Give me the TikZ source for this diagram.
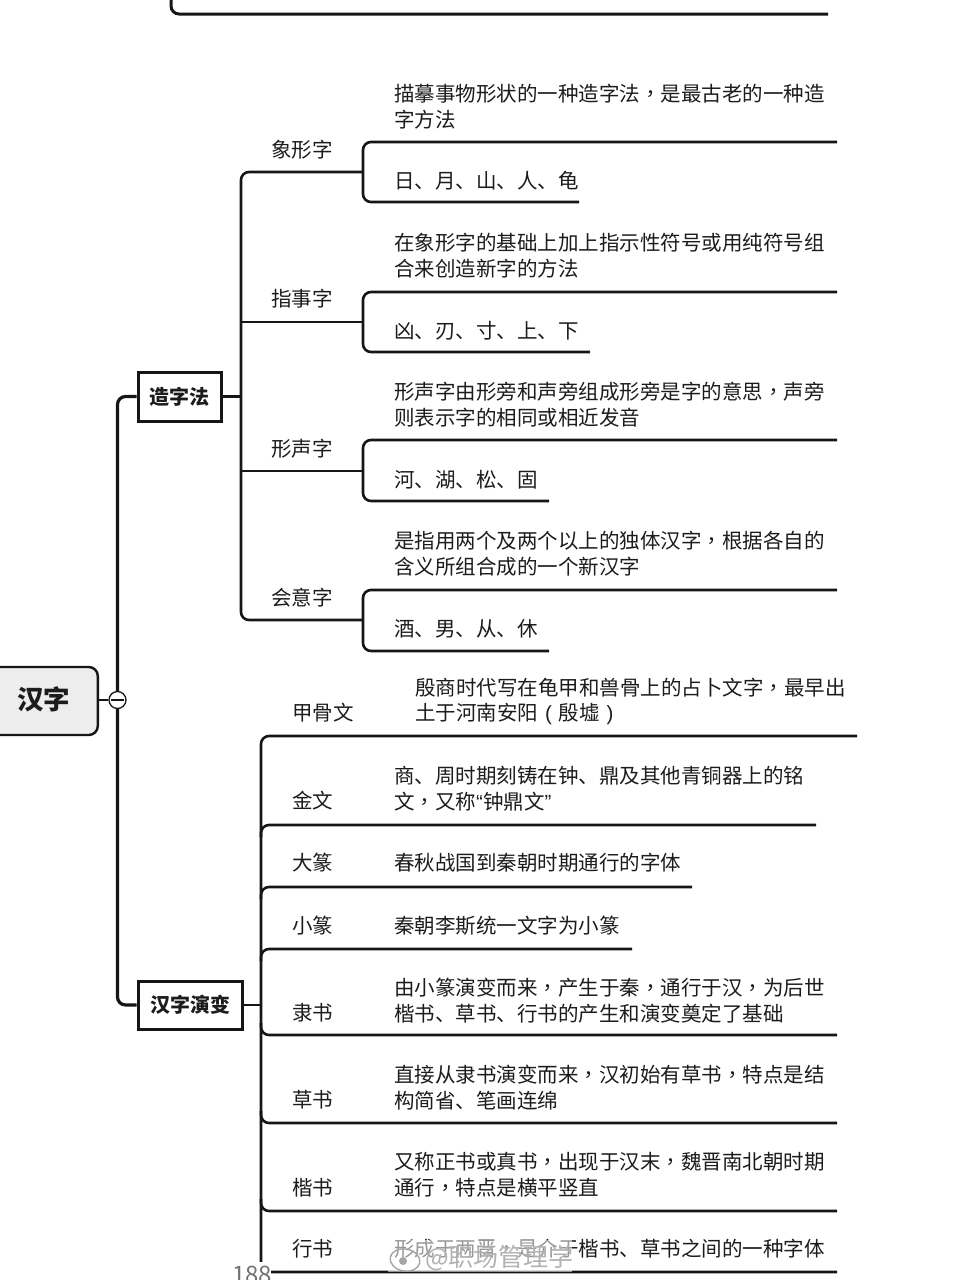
\documentclass[tikz,border=0pt]{standalone}
\usepackage{fontspec}
\setmainfont{Noto Sans CJK SC}
\newfontfamily\tcf{Noto Sans CJK TC}
\newfontfamily\latf{Liberation Sans}
\newcommand{\cm}{{\tcf ，}}
\usetikzlibrary{calc}
\definecolor{ink}{HTML}{161616}
\definecolor{txt}{HTML}{1C1C1C}
\tikzset{
  x=1pt,y=-1pt,
  wire/.style={draw=ink,line width=2.6pt,rounded corners=8pt},
  straightwire/.style={draw=ink,line width=2.6pt},
  rootbox/.style={draw=ink,line width=2.4pt,rounded corners=9pt,fill=black!7},
  mainbox/.style={draw=ink,line width=3pt,fill=white,inner sep=0pt,font=\bfseries\fontsize{20}{24}\selectfont,text=txt},
  lab/.style={anchor=west,inner sep=0pt,text=txt,font=\fontsize{20.5}{24}\selectfont},
  wmark/.style={anchor=west,inner sep=0pt,text=black!30,font=\fontsize{25}{28}\selectfont},
}
\begin{document}
\begin{tikzpicture}
\useasboundingbox (0,0) rectangle (960,1280);
\fill[white] (0,0) rectangle (960,1280);

% cut-off branch at the very top
\coordinate (ta) at (171,0);
\coordinate (tb) at (828,14);
\draw[wire,line width=3pt] (ta) |- (tb);

% root and collapse mark
\node[rootbox,minimum width=112pt,minimum height=68pt,inner sep=0pt,anchor=east] (root) at (99,701) {};
\node[inner sep=0pt,font=\bfseries\fontsize{26.5}{30}\selectfont,text=txt] (roottext) at (43.5,699.5) {汉字};

% main boxes
\node[mainbox,minimum width=83pt,minimum height=49pt] (zao) at (179.5,396.5) {造字法};
\node[mainbox,minimum width=104pt,minimum height=48pt] (yan) at (190,1005) {汉字演变};
\coordinate (foldc) at (117.5,700);

% trunk
\draw[wire,line width=3.2pt] (zao.west) -| (foldc);
\draw[wire,line width=3.2pt] (yan.west) -| (foldc);
\node[draw=ink,line width=1.3pt,circle,fill=white,minimum size=17pt,inner sep=0pt] (fold) at (foldc) {};
\draw[straightwire] (root.east |- fold) -- (fold.west);
\draw[ink,line width=1.3pt] ($(fold.west)+(3,0)$) -- ($(fold.east)+(-3,0)$);

% first group
\coordinate (s1) at (241,396.5);
\foreach \n/\yy/\topy/\boty/\botx in {a/172/142/202/579,b/322/292/352/590,c/471/440/501/549,d/620/590/651/549}{
  \coordinate (\n1) at (363,\yy);
  \coordinate (\n2) at (837,\topy);
  \coordinate (\n3) at (\botx,\boty);
  \draw[wire] (\n2) -| (\n1) |- (\n3);
}
\coordinate (b0) at (241,322);
\coordinate (c0) at (241,471);
\draw[wire] (a1) -| (b0) |- (d1);
\draw[straightwire] (b0) -- (b1);
\draw[straightwire] (c0) -- (c1);
\draw[straightwire] (zao.east) -- (s1);

\node[lab] (a) at (271,149.5) {象形字};
\node[lab] (b) at (271,298.5) {指事字};
\node[lab] (c) at (271,448.5) {形声字};
\node[lab] (d) at (271,597.5) {会意字};
\node[lab] (a1t) at (394,93.5) {描摹事物形状的一种造字法\cm 是最古老的一种造};
\node[lab] (a2t) at (394,119.5) {字方法};
\node[lab] (a3t) at (394,180.5) {日、月、山、人、龟};
\node[lab] (b1t) at (394,242.5) {在象形字的基础上加上指示性符号或用纯符号组};
\node[lab] (b2t) at (394,268.5) {合来创造新字的方法};
\node[lab] (b3t) at (394,330.5) {凶、刃、寸、上、下};
\node[lab] (c1t) at (394,391.5) {形声字由形旁和声旁组成形旁是字的意思\cm 声旁};
\node[lab] (c2t) at (394,417.5) {则表示字的相同或相近发音};
\node[lab] (c3t) at (394,479.5) {河、湖、松、固};
\node[lab] (d1t) at (394,540.5) {是指用两个及两个以上的独体汉字\cm 根据各自的};
\node[lab] (d2t) at (394,566.5) {含义所组合成的一个新汉字};
\node[lab] (d3t) at (394,628.5) {酒、男、从、休};

% second group
\coordinate (sp) at (261,1005);
\coordinate (e1) at (857,736);
\coordinate (end) at (261,1272);
\coordinate (endr) at (837,1272);
\draw[wire] (e1) -| (end) -- (endr);
\draw[straightwire] (yan.east) -- (sp);
\foreach \n/\yy/\xx in {f/825/816,g/887/692,h/949/632}{
  \coordinate (\n1) at (\xx,\yy);
  \coordinate (\n0) at (261,\yy+12);
  \draw[wire] (\n1) -| (\n0);
}
\foreach \n/\yy/\xx in {k/1035/837,l/1123/837,m/1211/837}{
  \coordinate (\n1) at (\xx,\yy);
  \coordinate (\n0) at (261,\yy-12);
  \draw[wire] (\n0) |- (\n1);
}

\node[lab] (e) at (292,712.5) {甲骨文};
\node[lab] (e1t) at (415,687.5) {殷商时代写在龟甲和兽骨上的占卜文字\cm 最早出};
\node[lab] (e2t) at (415,713.5) {土于河南安阳\makebox[20.5pt][c]{\latf (}殷墟\makebox[20.5pt][c]{\latf )}};
\node[lab] (f) at (292,800.5) {金文};
\node[lab] (f1t) at (394,775.5) {商、周时期刻铸在钟、鼎及其他青铜器上的铭};
\node[lab] (f2t) at (394,801.5) {文\cm 又称{\latf “}钟鼎文{\latf ”}};
\node[lab] (g) at (292,862.5) {大篆};
\node[lab] (g1t) at (394,862.5) {春秋战国到秦朝时期通行的字体};
\node[lab] (h) at (292,925.5) {小篆};
\node[lab] (h1t) at (394,925.5) {秦朝李斯统一文字为小篆};
\node[lab] (k) at (292,1012.5) {隶书};
\node[lab] (k1t) at (394,987.5) {由小篆演变而来\cm 产生于秦\cm 通行于汉\cm 为后世};
\node[lab] (k2t) at (394,1013.5) {楷书、草书、行书的产生和演变奠定了基础};
\node[lab] (l) at (292,1099.5) {草书};
\node[lab] (l1t) at (394,1074.5) {直接从隶书演变而来\cm 汉初始有草书\cm 特点是结};
\node[lab] (l2t) at (394,1100.5) {构简省、笔画连绵};
\node[lab] (m) at (292,1187.5) {楷书};
\node[lab] (m1t) at (394,1161.5) {又称正书或真书\cm 出现于汉末\cm 魏晋南北朝时期};
\node[lab] (m2t) at (394,1187.5) {通行\cm 特点是横平竖直};
\node[lab] (n) at (292,1248.5) {行书};
\node[lab] (n1t) at (394,1248.5) {形成于两晋\cm 是介于楷书、草书之间的一种字体};

% watermark and cut-off page number
\fill[white,opacity=.55] (388,1240) rectangle (572,1272);
\draw[black!35,line width=1.4pt,rotate around={-10:(405,1260)}] (405,1260) ellipse (15pt and 11pt);
\fill[black!35] (403,1261) circle (4pt);
\node[wmark] (wm) at (425,1258) {@职场管理学};
\fill[white] (230,1262) rectangle (271,1280);
\node[inner sep=0pt,anchor=west,text=black!55,font=\fontsize{24}{28}\selectfont] (pg) at (232,1275) {188};
\end{tikzpicture}
\end{document}
